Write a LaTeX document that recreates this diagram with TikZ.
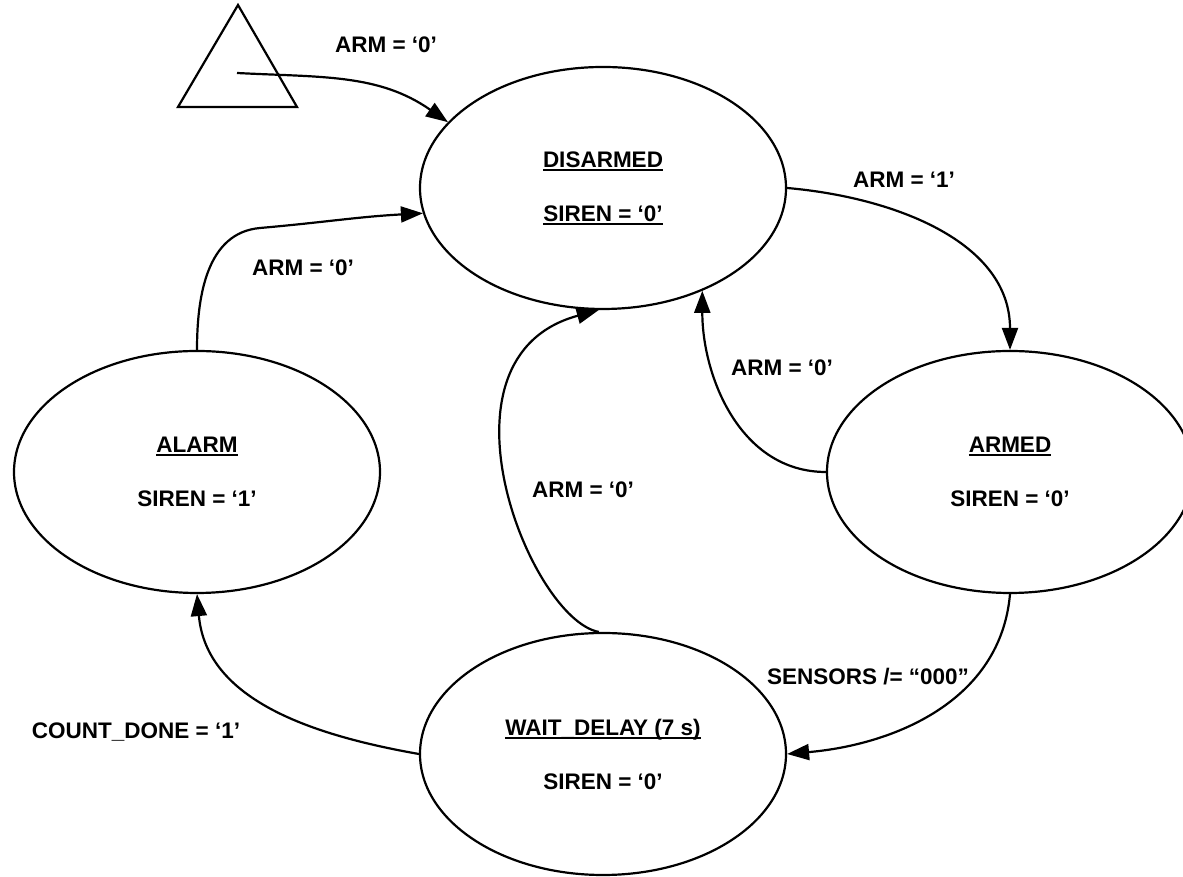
\documentclass[tikz,border=0pt]{standalone}
\usepackage{fontspec}
\setmainfont{Liberation Sans}
\usetikzlibrary{arrows.meta,shapes.geometric}

\newcommand{\ulabel}[1]{\setbox0\hbox{#1}\rlap{\rule[-3.5pt]{\wd0}{1.8pt}}\box0}

\begin{document}
\begin{tikzpicture}[x=1pt, y=1pt, line width=2.2pt,
		font=\fontsize{22.5}{54}\selectfont\bfseries,
		state/.style={draw, ellipse, minimum width=366pt, minimum height=242pt, inner sep=0pt, align=center},
		trans/.style={-{Triangle[length=22pt, width=16pt]}}]
		\useasboundingbox (0, 0) rectangle (1183, 877);

		% states
		\node [state] (dis) at (603, 689) {\ulabel{DISARMED}\\ \ulabel{SIREN = ‘0’}};
		\node [state] (armed) at (1010, 405) {\ulabel{ARMED}\\ SIREN = ‘0’};
		\node [state] (alarm) at (197, 405) {\ulabel{ALARM}\\ SIREN = ‘1’};
		\node [state] (wait) at (603, 123) {\ulabel{WAIT\_DELAY (7 s)}\\ SIREN = ‘0’};

		% reset
		\draw (178, 770) -- (238, 872) -- (297, 770) -- cycle;
		\coordinate (init) at (237, 804);

		% transitions
		\draw [trans] (init) to[out=-3, in=145] (dis.157);
		\draw [trans] (alarm.90) to[out=90, in=185] (260, 649) to[out=5, in=183] (dis.188);
		\draw [trans] (dis.0) to[out=-5, in=90] (armed.90);
		\draw [trans] (armed.180) to[out=180, in=-90] (dis.-46);
		\draw [trans] (wait.92) .. controls (530, 258) and (425, 520) .. (dis.-92);
		\draw [trans] (armed.-90) to[out=-95, in=5] (wait.0);
		\draw [trans] (wait.180) to[out=170, in=-85] (alarm.-90);

		\node (lInit) at (386, 832) {ARM = ‘0’};
		\node (lAlarmDis) at (303, 609) {ARM = ‘0’};
		\node (lDisArmed) at (904, 697) {ARM = ‘1’};
		\node (lArmedDis) at (782, 509) {ARM = ‘0’};
		\node (lWaitDis) at (583, 387) {ARM = ‘0’};
		\node (lArmedWait) at (868, 200) {SENSORS /= “000”};
		\node (lWaitAlarm) at (136, 145) {COUNT\_DONE = ‘1’};
	\end{tikzpicture}
\end{document}
